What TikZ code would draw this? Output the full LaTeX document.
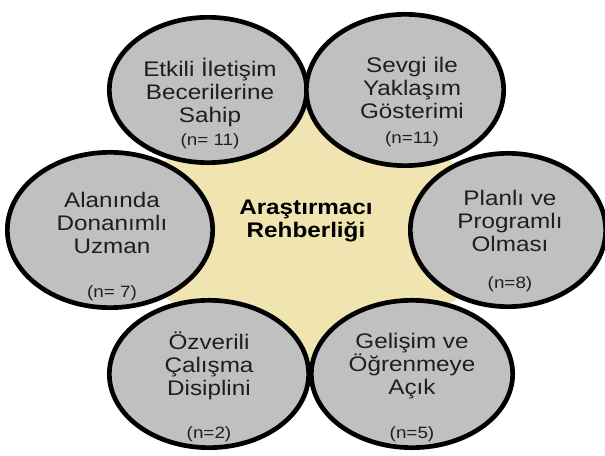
\documentclass[tikz,border=0pt]{standalone}
\usepackage{fontspec}
\setmainfont{Liberation Sans}
\newfontfamily\bubblefont[FakeStretch=1.15]{Liberation Sans}
\usetikzlibrary{shapes.geometric}
\definecolor{bubblegray}{RGB}{192,192,192}
\definecolor{starbeige}{RGB}{240,228,176}
\definecolor{inktext}{RGB}{30,30,30}
\tikzset{bubble/.style={draw=black, fill=bubblegray, ellipse, line width=4pt, inner sep=0pt}}
\tikzset{btext/.style={align=center, text=inktext, font=\bubblefont\fontsize{18}{19.6}\selectfont}}
\tikzset{ntext/.style={text=inktext, font=\bubblefont\fontsize{14}{16}\selectfont}}
\tikzset{hub/.style={align=center, text=black, font=\bubblefont\bfseries\fontsize{18}{20.4}\selectfont}}

\begin{document}
\begin{tikzpicture}[x=0.03cm,y=-0.03cm]
\useasboundingbox (0,0) rectangle (605,456);

\coordinate (cTL) at (208,90);
\coordinate (cTR) at (405,90);
\coordinate (cR) at (508,230);
\coordinate (cBR) at (412,374);
\coordinate (cBL) at (209,374);
\coordinate (cL) at (110,230);

\coordinate (tipT) at (307,80);
\coordinate (tipTR) at (452,161);
\coordinate (tipBR) at (456,300);
\coordinate (tipB) at (310,385);
\coordinate (tipBL) at (167,299);
\coordinate (tipTL) at (165,160);

\fill[starbeige] (tipT) -- (tipTR) -- (tipBR) -- (tipB) -- (tipBL) -- (tipTL) -- cycle;

\node[bubble, minimum width=6.16cm, minimum height=4.66cm] (alan) at (cL) {};
\node[bubble, minimum width=5.98cm, minimum height=4.42cm] (ozveri) at (cBL) {};
\node[bubble, minimum width=6.04cm, minimum height=4.42cm] (gelisim) at (cBR) {};
\node[bubble, minimum width=5.86cm, minimum height=4.60cm] (plan) at (cR) {};
\node[bubble, minimum width=5.92cm, minimum height=4.36cm] (etkili) at (cTL) {};
\node[bubble, minimum width=5.92cm, minimum height=4.54cm] (sevgi) at (cTR) {};

\node[hub] (center) at (306,221) {Araştırmacı\\Rehberliği};

\node[btext] (etkiliT) at (210,93) {Etkili İletişim\\Becerilerine\\Sahip};
\node[ntext] (etkiliN) at (210,141) {(n= 11)};

\node[btext] (sevgiT) at (412,88) {Sevgi ile\\Yaklaşım\\Gösterimi};
\node[ntext] (sevgiN) at (412,139) {(n=11)};

\node[btext] (alanT) at (112,223) {Alanında\\Donanımlı\\Uzman};
\node[ntext] (alanN) at (112,293) {(n= 7)};

\node[btext] (planT) at (510,221) {Planlı ve\\Programlı\\Olması};
\node[ntext] (planN) at (510,284) {(n=8)};

\node[btext] (ozveriT) at (209,366) {Özverili\\Çalışma\\Disiplini};
\node[ntext] (ozveriN) at (209,434) {(n=2)};

\node[btext] (gelisimT) at (412,366) {Gelişim ve\\Öğrenmeye\\Açık};
\node[ntext] (gelisimN) at (412,434) {(n=5)};

\end{tikzpicture}
\end{document}
